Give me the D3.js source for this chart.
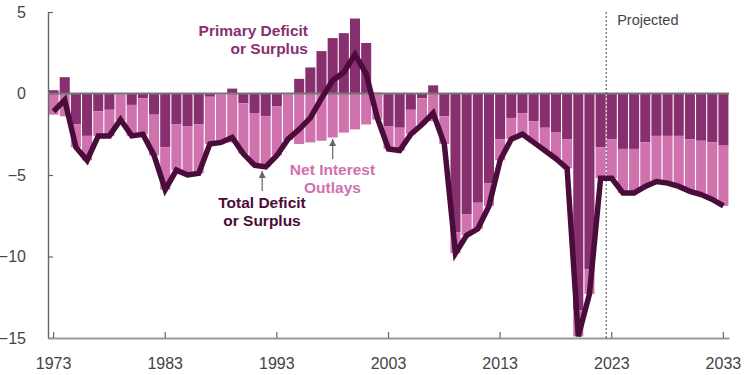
<!DOCTYPE html>
<html>
<head>
<meta charset="utf-8">
<script src="https://cdn.jsdelivr.net/npm/d3@7"></script>
<style>
  body { margin: 0; background: #fff; }
  text { font-family: "Liberation Sans", Arial, sans-serif; }
</style>
</head>
<body>
<svg id="chart" width="750" height="375"></svg>
<script>
// percentage of GDP, fiscal years
const years = [
    1973, 1974, 1975, 1976, 1977, 1978, 1979, 1980, 1981, 1982,
    1983, 1984, 1985, 1986, 1987, 1988, 1989, 1990, 1991, 1992,
    1993, 1994, 1995, 1996, 1997, 1998, 1999, 2000, 2001, 2002,
    2003, 2004, 2005, 2006, 2007, 2008, 2009, 2010, 2011, 2012,
    2013, 2014, 2015, 2016, 2017, 2018, 2019, 2020, 2021, 2022,
    2023, 2024, 2025, 2026, 2027, 2028, 2029, 2030, 2031, 2032, 2033
];

// primary deficit (-) or surplus (+)
const primary = [
    0.2, 1.0, -1.9, -2.6, -1.1, -1.0, -0.05, -0.7, -0.3, -1.3,
    -3.3, -1.9, -2.0, -1.9, -0.2, -0.05, 0.3, -0.6, -1.2, -1.4,
    -0.8, -0.05, 0.9, 1.6, 2.6, 3.4, 3.7, 4.6, 3.1, 0.05,
    -2.0, -2.1, -1.0, -0.3, 0.5, -1.4, -8.5, -7.4, -6.7, -5.5,
    -2.8, -1.5, -1.2, -1.7, -2.1, -2.4, -2.8, -13.3, -10.8, -3.3,
    -2.8, -3.4, -3.4, -3.0, -2.6, -2.6, -2.6, -2.8, -2.9, -3.0, -3.2
];

// net interest outlays
const netInterest = [
    1.3, 1.4, 1.4, 1.5, 1.5, 1.6, 1.6, 1.9, 2.2, 2.5,
    2.6, 2.8, 3.0, 3.0, 2.9, 2.9, 3.0, 3.1, 3.2, 3.1,
    3.0, 2.8, 3.1, 3.0, 2.9, 2.7, 2.4, 2.2, 1.9, 1.6,
    1.4, 1.4, 1.5, 1.6, 1.7, 1.7, 1.3, 1.3, 1.6, 1.4,
    1.3, 1.3, 1.3, 1.3, 1.4, 1.6, 1.8, 1.6, 1.5, 1.9,
    2.4, 2.7, 2.7, 2.7, 2.8, 2.9, 3.1, 3.2, 3.3, 3.5, 3.7
];

// total deficit (-) or surplus (+)
const total = [
    -1.1, -0.4, -3.3, -4.1, -2.6, -2.6, -1.6, -2.6, -2.5, -3.8,
    -5.9, -4.7, -5.0, -4.9, -3.1, -3.0, -2.7, -3.7, -4.4, -4.5,
    -3.8, -2.8, -2.2, -1.5, -0.3, 0.8, 1.3, 2.4, 1.2, -1.5,
    -3.4, -3.5, -2.5, -1.9, -1.2, -3.1, -9.8, -8.7, -8.3, -6.9,
    -4.1, -2.8, -2.5, -3.0, -3.5, -4.0, -4.6, -14.9, -12.3, -5.2,
    -5.2, -6.1, -6.1, -5.7, -5.4, -5.5, -5.7, -6.0, -6.2, -6.5, -6.9
];

const yTicks = [5, 0, -5, -10, -15];
const xTicks = [1973, 1983, 1993, 2003, 2013, 2023, 2033];
const firstProjected = 2023;

const colors = {
    primary: "#882f6f",
    interest: "#cf72ae",
    total: "#4a0c3a",
    axis: "#666",
    label: "#444"
};

const svg = d3.select("#chart");

const x = d3.scaleBand()
    .domain(years)
    .range([48, 729])
    .paddingInner(0.1)
    .paddingOuter(0.05);

const y = d3.scaleLinear()
    .domain([-15, 5])
    .range([338, 12]);

const xc = yr => x(yr) + x.bandwidth() / 2;

let rows = years.map((yr, i) => ({
    year: yr,
    primary: primary[i],
    interest: netInterest[i],
    total: total[i]
}));

// bars: primary from zero, interest stacked below
let barG = svg.append("g");

barG.selectAll("rect.primary")
    .data(rows)
    .join("rect")
    .attr("class", "primary")
    .attr("x", d => x(d.year))
    .attr("width", x.bandwidth())
    .attr("y", d => y(Math.max(0, d.primary)))
    .attr("height", d => Math.abs(y(d.primary) - y(0)))
    .attr("fill", colors.primary);

barG.selectAll("rect.interest")
    .data(rows)
    .join("rect")
    .attr("class", "interest")
    .attr("x", d => x(d.year))
    .attr("width", x.bandwidth())
    .attr("y", d => y(Math.min(0, d.primary)))
    .attr("height", d => y(Math.min(0, d.primary) - d.interest) - y(Math.min(0, d.primary)))
    .attr("fill", colors.interest);

// axes
let yAxis = svg.append("g")
    .attr("transform", "translate(48,0)")
    .call(d3.axisLeft(y).tickValues(yTicks).tickSize(-5).tickSizeOuter(0).tickPadding(22));
yAxis.select(".domain").attr("stroke", colors.axis).attr("stroke-width", 1.4);
yAxis.selectAll(".tick line").attr("stroke", colors.axis).attr("stroke-width", 1.2);
yAxis.selectAll(".tick text")
    .attr("fill", colors.label)
    .style("font-size", "16px");

let xAxis = svg.append("g")
    .attr("transform", "translate(0,338)")
    .call(d3.axisBottom(x).tickValues(xTicks).tickSize(-6).tickSizeOuter(0).tickPadding(20));
xAxis.select(".domain").attr("stroke", "#999").attr("stroke-width", 2);
xAxis.selectAll(".tick line").attr("stroke", colors.axis).attr("stroke-width", 1.2);
xAxis.selectAll(".tick text")
    .attr("fill", colors.label)
    .style("font-size", "16px");

// zero line
svg.append("line")
    .attr("x1", 48).attr("x2", 729)
    .attr("y1", y(0)).attr("y2", y(0))
    .attr("stroke", "#777")
    .attr("stroke-width", 2);

// projection divider
let divX = x(firstProjected) - x.step() * x.paddingInner() / 2;
svg.append("line")
    .attr("x1", divX).attr("x2", divX)
    .attr("y1", y(5)).attr("y2", y(-15))
    .attr("stroke", "#444")
    .attr("stroke-width", 1)
    .attr("stroke-dasharray", "2,2");

svg.append("text")
    .attr("x", divX + 11)
    .attr("y", 24.5)
    .attr("fill", colors.label)
    .style("font-size", "14.5px")
    .text("Projected");

// total deficit line
let line = d3.line()
    .x(d => xc(d.year))
    .y(d => y(d.total));

svg.append("path")
    .datum(rows)
    .attr("d", line)
    .attr("fill", "none")
    .attr("stroke", colors.total)
    .attr("stroke-width", 5.5);

// annotations
let defs = svg.append("defs");
defs.append("marker")
    .attr("id", "arrow")
    .attr("viewBox", "0 0 10 10")
    .attr("refX", 10).attr("refY", 5)
    .attr("markerWidth", 6).attr("markerHeight", 6)
    .attr("orient", "auto")
    .append("path")
    .attr("d", "M0,0 L10,5 L0,10 z")
    .attr("fill", "#666");

function label(lines, xPos, yPos, anchor, color) {
    let t = svg.append("text")
        .attr("text-anchor", anchor)
        .attr("fill", color)
        .style("font-size", "15.5px")
        .style("font-weight", "bold");
    lines.forEach((s, i) => {
        t.append("tspan").attr("x", xPos).attr("y", yPos + i * 18).text(s);
    });
}

label(["Primary Deficit", "or Surplus"], 308, 35.5, "end", colors.primary);
label(["Net Interest", "Outlays"], 332.5, 175, "middle", colors.interest);
label(["Total Deficit", "or Surplus"], 262, 208, "middle", colors.total);

let arrows = [
    {x: xc(1998), y1: 159, y2: 139},
    {x: xc(1992) - 3.5, y1: 191, y2: 171}
];
svg.selectAll("line.arrow")
    .data(arrows)
    .join("line")
    .attr("class", "arrow")
    .attr("x1", d => d.x).attr("x2", d => d.x)
    .attr("y1", d => d.y1).attr("y2", d => d.y2)
    .attr("stroke", "#666")
    .attr("stroke-width", 1.2)
    .attr("marker-end", "url(#arrow)");
</script>
</body>
</html>
